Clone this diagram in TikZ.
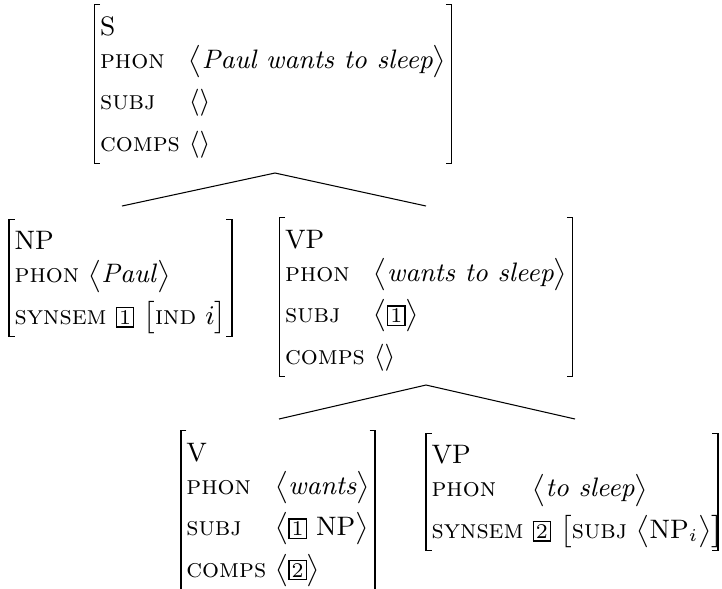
\documentclass[tikz,border=0pt]{standalone}
\usepackage{amsmath}
\newcommand{\fs}[1]{\textsc{#1}}
\newcommand{\tg}[1]{{\setlength\fboxsep{0.7pt}\setlength\fboxrule{0.4pt}\fbox{\scriptsize #1}}}
\newcommand{\lst}[1]{$\bigl\langle\mbox{#1}\bigr\rangle$}
\newcommand{\elst}{$\langle\rangle$}
\newcommand{\toprow}{\rule{0pt}{10.2pt}}
\renewcommand{\arraystretch}{1.0}
\tikzset{avm/.style={inner xsep=1.8pt, inner ysep=0pt, outer sep=0pt, font=\fontsize{8.9}{13.8}\selectfont},
  brk/.style={line width=0.5pt},
  branch/.style={line width=0.35pt}}
\begin{document}
\begin{tikzpicture}[x=0.3333pt,y=-0.3333pt]
\useasboundingbox (0,0) rectangle (722,588);
\node[avm] (s) at (273,84) {\begin{tabular}{@{}l@{\hspace{3pt}}l@{}}
\toprow S & \\[-2.8pt]
\fs{phon} & \lst{\textit{Paul wants to sleep}} \\
\fs{subj} & \elst \\
\fs{comps} & \elst
\end{tabular}};
\node[avm] (np) at (120.5,278) {\begin{tabular}{@{}l@{}}
\toprow NP \\[-2.8pt]
\fs{phon} \lst{\textit{Paul}} \\
\fs{synsem} \tg{1} $\bigl[\mbox{\fs{ind} $i$}\bigr]$
\end{tabular}};
\node[avm] (vp) at (426,297) {\begin{tabular}{@{}l@{\hspace{3pt}}l@{}}
\toprow VP & \\[-2.8pt]
\fs{phon} & \lst{\textit{wants to sleep}} \\
\fs{subj} & \lst{\tg{1}} \\
\fs{comps} & \elst
\end{tabular}};
\node[avm] (v) at (278,510) {\begin{tabular}{@{}l@{\hspace{3pt}}l@{}}
\toprow V & \\[-2.8pt]
\fs{phon} & \lst{\textit{wants}} \\
\fs{subj} & \lst{\tg{1} NP} \\
\fs{comps} & \lst{\tg{2}}
\end{tabular}};
\node[avm] (vp2) at (572,492) {\begin{tabular}{@{}l@{\hspace{3pt}}l@{}}
\toprow VP & \\[-2.8pt]
\fs{phon} & \lst{\textit{to sleep}} \\
\fs{synsem} & \tg{2} $\bigl[\mbox{\fs{subj} \lst{NP$_i$}}\bigr]$\kern-3.5pt
\end{tabular}};
\foreach \n in {s,np,vp,v,vp2}{
  \draw[brk] ([xshift=1.8pt]\n.north west) -- (\n.north west) -- (\n.south west) -- ([xshift=1.8pt]\n.south west);
  \draw[brk] ([xshift=-1.8pt]\n.north east) -- (\n.north east) -- (\n.south east) -- ([xshift=-1.8pt]\n.south east);
}
\coordinate (a1) at (275,173);
\coordinate (l1) at (122,206);
\coordinate (r1) at (426,206);
\coordinate (a2) at (426,385);
\coordinate (l2) at (279,419);
\coordinate (r2) at (575,419);
\draw[branch] (l1) -- (a1) -- (r1);
\draw[branch] (l2) -- (a2) -- (r2);
\end{tikzpicture}
\end{document}
